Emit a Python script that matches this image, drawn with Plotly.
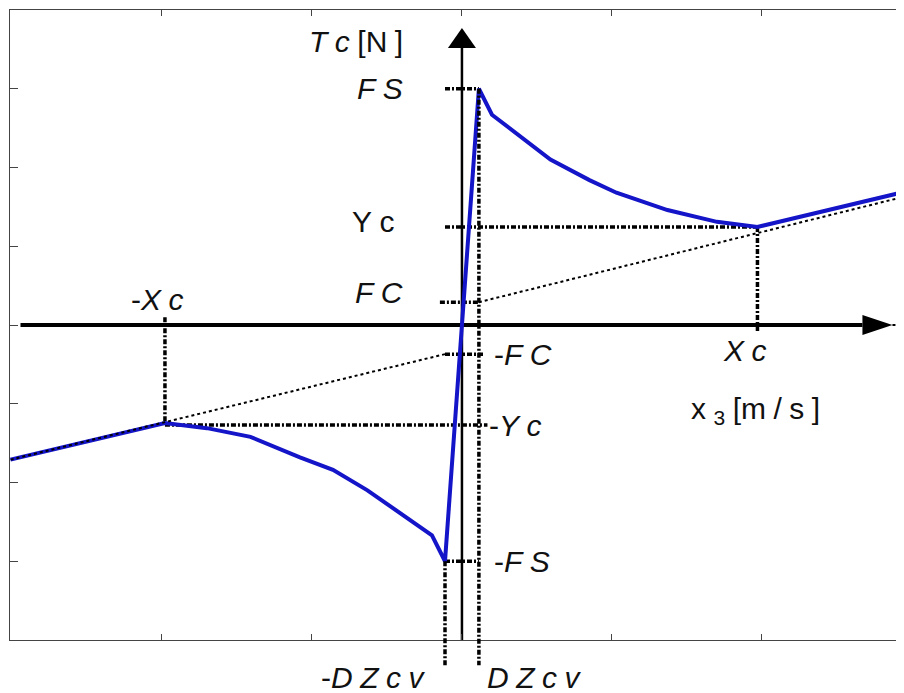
import plotly.graph_objects as go

# friction characteristic Tc(x3) (blue curve)
x3_curve = [-3.01, -1.98, -1.70, -1.41, -1.08, -0.86, -0.63, -0.41, -0.20, -0.113,
            0.113, 0.20, 0.59, 0.85, 1.03, 1.37, 1.70, 1.97, 2.95]
tc_curve = [-1.71, -1.245, -1.31, -1.42, -1.68, -1.84, -2.10, -2.39, -2.67, -3.0,
            3.0, 2.67, 2.10, 1.84, 1.68, 1.46, 1.31, 1.245, 1.69]

# viscous (Coulomb + viscous) reference lines, dotted
visc_x_pos = [0.113, 2.95]
visc_y_pos = [0.29, 1.63]
visc_x_neg = [-0.113, -3.01]
visc_y_neg = [-0.37, -1.71]

# characteristic levels
FS, FS_NEG = 3.0, -3.0
YC, YC_NEG = 1.245, -1.27
FC, FC_NEG = 0.29, -0.37
XC, XC_NEG = 1.97, -1.98
DZCV = 0.113
DZ_LINE_END = -4.32  # dead-zone guides run below the frame

X_RANGE = [-3.013, 2.947]
Y_RANGE = [-4, 4]

FONT = "Liberation Sans, Arial, sans-serif"
BLUE = "#1414c8"
SP = "\u2005"  # letter spacing like the original labels
GUIDE_DASH = "5px,2px,2px,2px"

fig = go.Figure()


def guide(xs, ys, width=3.5, dash=GUIDE_DASH):
    fig.add_trace(go.Scatter(x=xs, y=ys, mode="lines", hoverinfo="skip",
                             line=dict(color="black", width=width, dash=dash)))


def to_paper(y):
    return (y - Y_RANGE[0]) / (Y_RANGE[1] - Y_RANGE[0])


# axis lines
guide([X_RANGE[0] + 0.07, 2.67], [0, 0], width=4, dash="solid")
guide([0, 0], [Y_RANGE[0], 3.52], width=2.5, dash="solid")
guide([2.87, X_RANGE[1]], [0, 0], width=2, dash="dot")

# dotted viscous line (right)
guide(visc_x_pos, visc_y_pos, width=2, dash="dot")

# guide lines for the characteristic points
guide([-DZCV, DZCV], [FS, FS])
guide([-DZCV, XC], [YC, YC])
guide([-0.147, DZCV], [FC, FC])
guide([-DZCV, 0.15], [FC_NEG, FC_NEG])
guide([XC_NEG, 0.17], [YC_NEG, YC_NEG])
guide([-DZCV, DZCV], [FS_NEG, FS_NEG])
guide([XC_NEG, XC_NEG], [0.1, YC_NEG])
guide([XC, XC], [YC, -0.1])

# dead-zone verticals reach below the frame -> paper-referenced y (clipped in x only)
for xv, ytop in [(DZCV, FS), (-DZCV, FS_NEG)]:
    fig.add_shape(type="line", xref="x", yref="paper", x0=xv, x1=xv,
                  y0=to_paper(ytop), y1=to_paper(DZ_LINE_END),
                  line=dict(color="black", width=3.5, dash=GUIDE_DASH))

fig.add_trace(go.Scatter(x=x3_curve, y=tc_curve, mode="lines", hoverinfo="skip",
                         line=dict(color=BLUE, width=4)))
guide(visc_x_neg, visc_y_neg, width=2, dash="dot")

# arrow heads (pixel sized, anchored at the tips)
fig.add_shape(type="path", xsizemode="pixel", ysizemode="pixel",
              xanchor=2.87, yanchor=0, path="M0,0 L-30,10 L-30,-10 Z",
              fillcolor="black", line=dict(width=0))
fig.add_shape(type="path", xsizemode="pixel", ysizemode="pixel",
              xanchor=0, yanchor=3.77, path="M0,0 L-14,-20 L14,-20 Z",
              fillcolor="black", line=dict(width=0))

labels = [
    (f"<i>T{SP}c</i>{SP}[N{SP}]", -0.38, 3.6, "right"),
    (f"<i>F{SP}S</i>", -0.38, 3.0, "right"),
    (f"Y{SP}c", -0.43, 1.32, "right"),
    (f"<i>F{SP}C</i>", -0.38, 0.41, "right"),
    (f"-<i>X{SP}c</i>", -2.03, 0.32, "center"),
    (f"<i>X{SP}c</i>", 1.89, -0.32, "center"),
    (f"x{SP}<sub>3</sub>{SP}[m{SP}/{SP}s{SP}]", 1.96, -1.08, "center"),
    (f"-<i>F{SP}C</i>", 0.2, -0.38, "left"),
    (f"-<i>Y{SP}c</i>", 0.17, -1.27, "left"),
    (f"-<i>F{SP}S</i>", 0.2, -3.0, "left"),
]
for text, x, y, anchor in labels:
    fig.add_annotation(x=x, y=y, text=text, showarrow=False, xanchor=anchor,
                       yanchor="middle", font=dict(family=FONT, size=30, color="#111"))

# dead-zone labels sit below the frame, so place them in paper units
for text, x in [(f"-<i>D{SP}Z{SP}c{SP}v</i>", -0.59), (f"<i>D{SP}Z{SP}c{SP}v</i>", 0.48)]:
    fig.add_annotation(x=x, y=-0.059, yref="paper", text=text, showarrow=False,
                       xanchor="center", yanchor="middle",
                       font=dict(family=FONT, size=30, color="#111"))

axis_common = dict(showgrid=False, zeroline=False, showticklabels=False,
                   showline=True, linecolor="#444", linewidth=1,
                   ticks="inside", tickcolor="#444", tickwidth=1)
fig.update_xaxes(range=X_RANGE, tickvals=[-2, -1, 0, 1, 2], ticklen=6,
                 mirror="allticks", **axis_common)
fig.update_yaxes(range=Y_RANGE, tickvals=[-3, -2, -1, 0, 1, 2, 3], ticklen=8,
                 mirror=False, **axis_common)

# the page adds an 8px body margin, so the frame starts 2px inside the figure
fig.update_layout(width=896, height=685, showlegend=False,
                  margin=dict(l=2, r=0, t=2, b=53),
                  plot_bgcolor="white", paper_bgcolor="white")

fig.write_html("out.html")
